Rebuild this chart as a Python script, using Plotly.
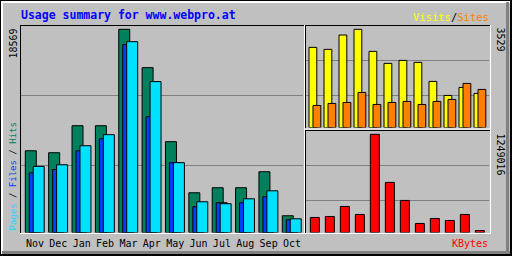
import plotly.graph_objects as go

# ---- data ----
months = ["Nov", "Dec", "Jan", "Feb", "Mar", "Apr", "May", "Jun", "Jul", "Aug", "Sep", "Oct"]
hits = [7470, 7290, 9760, 9760, 18569, 15065, 8300, 3630, 4090, 4090, 5550, 1530]
files = [5460, 5760, 7470, 8570, 17170, 10580, 6380, 2350, 2720, 2720, 3270, 1160]
pages = [6040, 6190, 7930, 8940, 17440, 13790, 6380, 2810, 2630, 3080, 3810, 1250]
visits = [2880, 2808, 3323, 3529, 2736, 2304, 2412, 2340, 1656, 1152, 1440, 1224]
sites = [792, 864, 900, 1260, 828, 900, 936, 828, 936, 1008, 1584, 1368]
kbytes = [191177, 203920, 331370, 229410, 1249016, 637250, 407840, 114705, 178430, 152940, 229410, 25490]

HITS_C, FILES_C, PAGES_C = "#00805C", "#0040FF", "#00E0FF"
VIS_C, SITES_C, KB_C = "#FFFF00", "#FF8000", "#FF0000"
BG = "#C0C0C0"
GRID = "#808080"
W, H = 512, 256

def px(x):
    return x / W

def py(y):
    return 1 - y / H

fig = go.Figure()
line = dict(color="black", width=1)

fig.add_trace(go.Bar(x=months, y=hits, marker=dict(color=HITS_C, line=line),
                     offset=-0.415, width=0.47, xaxis="x", yaxis="y"))
fig.add_trace(go.Bar(x=months, y=files, marker=dict(color=FILES_C, line=line),
                     offset=-0.245, width=0.47, xaxis="x", yaxis="y"))
fig.add_trace(go.Bar(x=months, y=pages, marker=dict(color=PAGES_C, line=line),
                     offset=-0.075, width=0.47, xaxis="x", yaxis="y"))
fig.add_trace(go.Bar(x=months, y=visits, marker=dict(color=VIS_C, line=line),
                     offset=-0.4, width=0.52, xaxis="x2", yaxis="y2"))
fig.add_trace(go.Bar(x=months, y=sites, marker=dict(color=SITES_C, line=line),
                     offset=-0.133, width=0.52, xaxis="x2", yaxis="y2"))
fig.add_trace(go.Bar(x=months, y=kbytes, marker=dict(color=KB_C, line=line),
                     offset=-0.31, width=0.6, xaxis="x3", yaxis="y3"))

mono = "DejaVu Sans Mono"
hidden = dict(showgrid=False, zeroline=False, showticklabels=False, ticks="",
              showline=False, fixedrange=True)

fig.update_layout(
    width=W, height=H, margin=dict(l=0, r=0, t=0, b=0),
    paper_bgcolor=BG, plot_bgcolor=BG, showlegend=False, barmode="overlay",
    xaxis=dict(domain=[px(20), px(304)], range=[-0.642, 11.514], type="category",
               showgrid=False, zeroline=False, ticks="", showline=False,
               ticklabelstandoff=3,
               tickfont=dict(family=mono, size=10, color="black"), anchor="y"),
    yaxis=dict(domain=[py(232.5), py(25)], range=[0, max(hits) * 207.5 / 203.2], **hidden),
    xaxis2=dict(domain=[px(305), px(490)], range=[-0.667, 11.667], type="category",
                anchor="y2", **hidden),
    yaxis2=dict(domain=[py(127.5), py(25)], range=[0, max(visits) * 102.5 / 98.2],
                anchor="x2", **hidden),
    xaxis3=dict(domain=[px(305), px(490)], range=[-0.667, 11.667], type="category",
                anchor="y3", **hidden),
    yaxis3=dict(domain=[py(232.5), py(130)], range=[0, max(kbytes) * 102.5 / 98.2],
                anchor="x3", **hidden),
)

shapes = []
def hline(x0, x1, y, color, w=1, layer="above"):
    shapes.append(dict(type="line", xref="paper", yref="paper", x0=px(x0), x1=px(x1),
                       y0=py(y), y1=py(y), line=dict(color=color, width=w), layer=layer))
def vline(x, y0, y1, color, w=1, layer="above"):
    shapes.append(dict(type="line", xref="paper", yref="paper", x0=px(x), x1=px(x),
                       y0=py(y0), y1=py(y1), line=dict(color=color, width=w), layer=layer))

# gridlines (behind bars)
for gy in (95.5, 165.5):
    hline(21, 303, gy, GRID, layer="below")
for gy in (60.5, 95.5):
    hline(306, 489, gy, GRID, layer="below")
for gy in (165.5, 200.5):
    hline(306, 489, gy, GRID, layer="below")

# panel frames: black top/left, white bottom/right
for (x0, y0, x1, y1) in [(20, 25, 304, 233), (305, 25, 490, 128.5), (305, 130, 490, 233)]:
    hline(x0, x1, y0 + 0.5, "black")
    vline(x0 + 0.5, y0, y1, "black")
    hline(x0, x1 + 1, y1 + 0.5, "white")
    vline(x1 + 0.5, y0, y1 + 1, "white")

# outer border
hline(0, 512, 0.5, "black")
vline(0.5, 0, 256, "black")
hline(1, 510, 2, "white", w=2)
vline(2, 1, 254, "white", w=2)
hline(2, 510, 252.5, GRID, w=3)
vline(507.5, 2, 254, GRID, w=3)
hline(0, 512, 255, "black", w=2)
vline(511, 0, 256, "black", w=2)

fig.update_layout(shapes=shapes)

ann = []
ann.append(dict(text="<b>Usage summary for www.webpro.at</b>", x=px(19), y=py(15),
                xref="paper", yref="paper", xanchor="left", yanchor="middle", showarrow=False,
                font=dict(family=mono, size=11.5, color="#0000FF")))
ann.append(dict(text=f"<span style='color:{VIS_C}'>Visits</span>/<span style='color:{SITES_C}'>Sites</span>",
                x=px(491), y=py(17), xref="paper", yref="paper", xanchor="right", yanchor="middle",
                showarrow=False, font=dict(family=mono, size=10.5, color="black")))
ann.append(dict(text=str(max(hits)), x=px(12.5), y=py(27), textangle=-90,
                xref="paper", yref="paper", xanchor="center", yanchor="top", showarrow=False,
                font=dict(family=mono, size=10, color="black")))
ann.append(dict(text=f"<span style='color:{PAGES_C}'>Pages</span> / <span style='color:{FILES_C}'>Files</span> / <span style='color:{HITS_C}'>Hits</span>",
                x=px(12.5), y=py(233), textangle=-90,
                xref="paper", yref="paper", xanchor="center", yanchor="bottom", showarrow=False,
                font=dict(family=mono, size=9, color="black")))
ann.append(dict(text=str(max(visits)), x=px(500.5), y=py(25), textangle=90,
                xref="paper", yref="paper", xanchor="center", yanchor="top", showarrow=False,
                font=dict(family=mono, size=10, color="black")))
ann.append(dict(text=str(max(kbytes)), x=px(500.5), y=py(131), textangle=90,
                xref="paper", yref="paper", xanchor="center", yanchor="top", showarrow=False,
                font=dict(family=mono, size=10, color="black")))
ann.append(dict(text="KBytes", x=px(490), y=py(243), xref="paper", yref="paper",
                xanchor="right", yanchor="middle", showarrow=False,
                font=dict(family=mono, size=10, color=KB_C)))
fig.update_layout(annotations=ann)

fig.write_html("out.html", config={"displayModeBar": False})
